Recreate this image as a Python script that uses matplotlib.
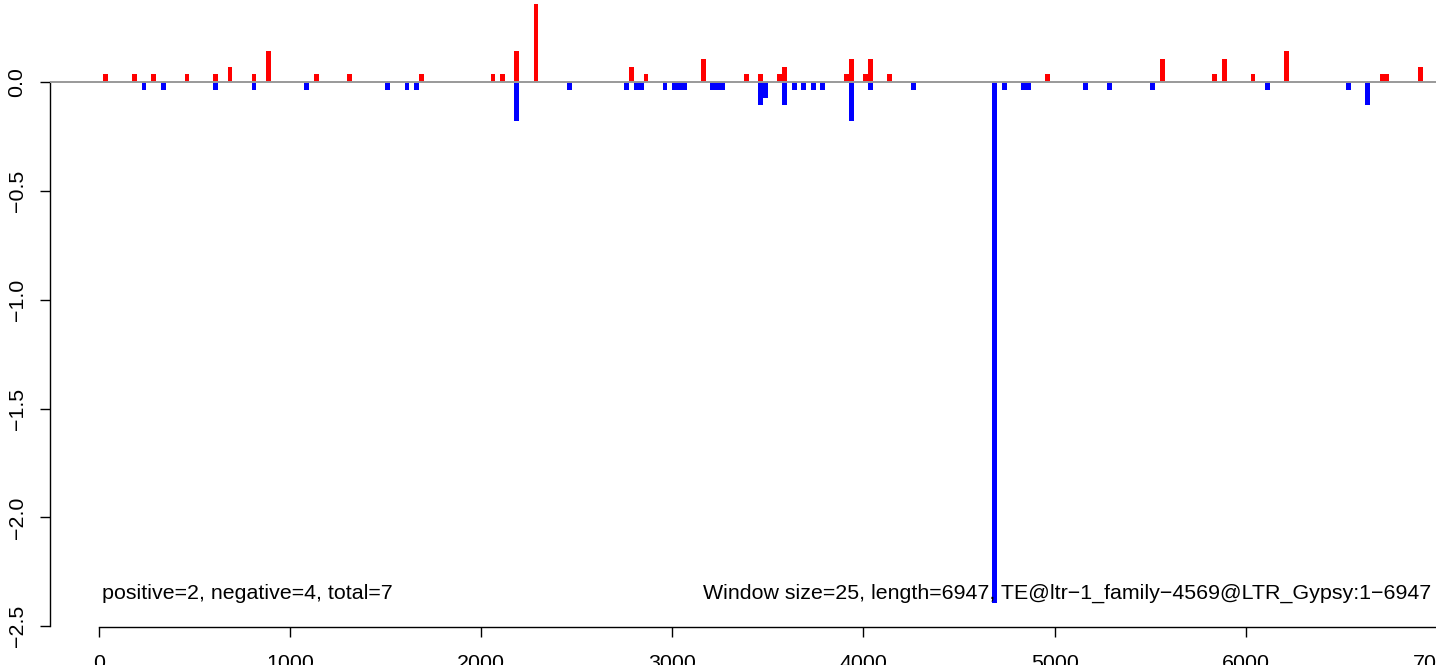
import matplotlib
matplotlib.use('Agg')
import matplotlib.pyplot as plt

# window size and sequence length
window = 25
length = 6947

# positive windows: centre position, score
pos_x = [37.5, 187.5, 287.5, 462.5, 612.5, 687.5, 812.5, 887.5, 1137.5, 1312.5,
         1687.5, 2062.5, 2112.5, 2187.5, 2287.5, 2787.5, 2862.5, 3162.5, 3387.5,
         3462.5, 3562.5, 3587.5, 3912.5, 3937.5, 4012.5, 4037.5, 4137.5, 4962.5,
         5562.5, 5837.5, 5887.5, 6037.5, 6212.5, 6712.5, 6737.5, 6912.5]
pos_y = [0.036, 0.036, 0.036, 0.036, 0.036, 0.071, 0.036, 0.143, 0.036, 0.036,
         0.036, 0.036, 0.036, 0.143, 0.357, 0.071, 0.036, 0.107, 0.036,
         0.036, 0.036, 0.071, 0.036, 0.107, 0.036, 0.107, 0.036, 0.036,
         0.107, 0.036, 0.107, 0.036, 0.143, 0.036, 0.036, 0.071]

# negative windows
neg_x = [237.5, 337.5, 612.5, 812.5, 1087.5, 1512.5, 1612.5, 1662.5, 2187.5,
         2462.5, 2762.5, 2812.5, 2837.5, 2962.5, 3012.5, 3037.5, 3062.5,
         3212.5, 3237.5, 3262.5, 3462.5, 3487.5, 3587.5, 3637.5, 3687.5,
         3737.5, 3787.5, 3937.5, 4037.5, 4262.5, 4687.5, 4737.5, 4837.5,
         4862.5, 5162.5, 5287.5, 5512.5, 6112.5, 6537.5, 6637.5]
neg_y = [-0.036, -0.036, -0.036, -0.036, -0.036, -0.036, -0.036, -0.036, -0.179,
         -0.036, -0.036, -0.036, -0.036, -0.036, -0.036, -0.036, -0.036,
         -0.036, -0.036, -0.036, -0.107, -0.071, -0.107, -0.036, -0.036,
         -0.036, -0.036, -0.179, -0.036, -0.036, -2.393, -0.036, -0.036,
         -0.036, -0.036, -0.036, -0.036, -0.036, -0.036, -0.107]

xticks = [0, 1000, 2000, 3000, 4000, 5000, 6000, 7000]
yticks = [0.0, -0.5, -1.0, -1.5, -2.0, -2.5]

left_text = 'positive=2, negative=4, total=7'
right_text = 'Window size=25, length=6947, TE@ltr\u22121_family\u22124569@LTR_Gypsy:1\u22126947'

plt.rcParams['font.family'] = ['Liberation Sans', 'DejaVu Sans']
fs = 15.4

fig = plt.figure(figsize=(14.36, 6.65), dpi=100)
# plot region runs past the top and right edges (picture is cropped)
ax = fig.add_axes([49.5 / 1436, 38 / 665, 1430.5 / 1436, 646.6 / 665])

ax.bar(pos_x, pos_y, width=window, color='#ff0000', linewidth=0, zorder=2)
ax.bar(neg_x, neg_y, width=window, color='#0000ff', linewidth=0, zorder=2)
ax.axhline(0, color='#999999', linewidth=1.4, zorder=3)

# R style 4% padding
lo = min(neg_y)
hi = max(pos_y)
pad = 0.04 * (hi - lo)
ax.set_ylim(lo - pad, hi + pad)
ax.set_xlim(-0.037 * length, 1.04 * length)

ax.spines['top'].set_visible(False)
ax.spines['right'].set_visible(False)
ax.spines['left'].set_bounds(yticks[-1], yticks[0])
ax.spines['bottom'].set_bounds(xticks[0], xticks[-1])
for s in ['left', 'bottom']:
    ax.spines[s].set_linewidth(1.0)

ax.set_xticks(xticks)
ax.set_xticklabels([str(t) for t in xticks])
ax.set_yticks(yticks)
ax.set_yticklabels([('%.1f' % t).replace('-', '\u2212') for t in yticks],
                   rotation=90, va='center')
ax.tick_params(axis='both', direction='out', length=7.5, width=1.0,
               labelsize=fs, colors='black')
ax.tick_params(axis='x', pad=12)
ax.tick_params(axis='y', pad=9)

ax.text(20, -2.35, left_text, fontsize=fs, ha='left', va='center')
ax.text(6970, -2.35, right_text, fontsize=fs, ha='right', va='center')

fig.savefig('out.png', dpi=100)
